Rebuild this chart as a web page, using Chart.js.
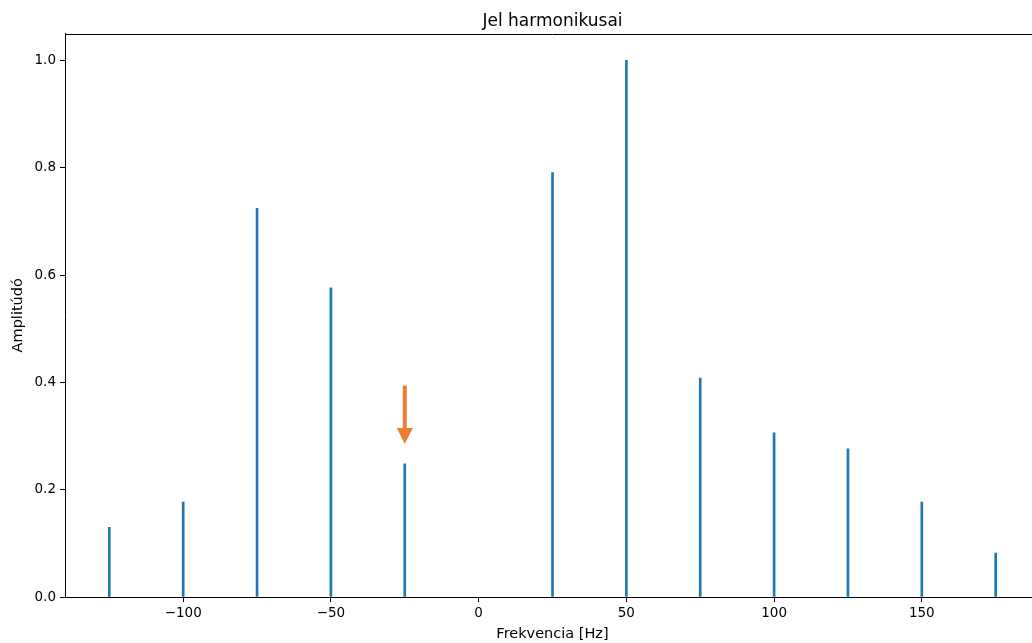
<!DOCTYPE html>
<html>
<head>
<meta charset="utf-8">
<script src="https://cdn.jsdelivr.net/npm/chart.js@4"></script>
<style>
html,body{margin:0;padding:0;background:#fff;overflow:hidden;}
#wrap{width:1040px;height:643px;}
</style>
</head>
<body>
<div id="wrap"><canvas id="c" width="1040" height="643"></canvas></div>
<script>
const freqs = [-125, -100, -75, -50, -25, 25, 50, 75, 100, 125, 150, 175];
const amps  = [0.130, 0.177, 0.724, 0.576, 0.248, 0.791, 1.000, 0.408, 0.306, 0.276, 0.177, 0.082];
const barWidths = [2, 2, 2, 2, 2, 2, 2, 3, 2, 2, 2, 3];
const xTicks = [-100, -50, 0, 50, 100, 150];
const yTicks = [0.0, 0.2, 0.4, 0.6, 0.8, 1.0];
const xRange = [-140, 190];
const yRange = [0, 1.05];
const arrowFrom = {x: -25, y: 0.394};
const arrowTo   = {x: -25, y: 0.285};
const titleText = 'Jel harmonikusai';
const xLabel = 'Frekvencia [Hz]';
const yLabel = 'Amplitúdó';

const FONT = "'DejaVu Sans', sans-serif";

const framePlugin = {
  id: 'frame',
  afterDatasetsDraw(chart) {
    const {ctx, chartArea: a} = chart;
    ctx.save();
    ctx.strokeStyle = '#000';
    ctx.lineWidth = 1;
    ctx.beginPath();
    ctx.moveTo(a.left, Math.round(a.top) + 0.5);
    ctx.lineTo(a.right, Math.round(a.top) + 0.5);
    ctx.lineTo(a.right, a.bottom);
    ctx.stroke();
    // title centred over the axes
    ctx.fillStyle = '#000';
    ctx.font = "17px " + FONT;
    ctx.textAlign = 'center';
    ctx.textBaseline = 'alphabetic';
    ctx.fillText(titleText, (a.left + a.right) / 2, 25.5);
    ctx.restore();
  }
};

const arrowPlugin = {
  id: 'arrow',
  afterDatasetsDraw(chart) {
    const {ctx} = chart;
    const xs = chart.scales.x, ys = chart.scales.y;
    const x0 = xs.getPixelForValue(arrowFrom.x), y0 = ys.getPixelForValue(arrowFrom.y);
    const x1 = xs.getPixelForValue(arrowTo.x), y1 = ys.getPixelForValue(arrowTo.y);
    const headLen = 16, headHalf = 8, shaft = 4;
    ctx.save();
    ctx.fillStyle = '#ED7D31';
    ctx.fillRect(x0 - shaft / 2, y0, shaft, (y1 - headLen) - y0 + 0.5);
    ctx.beginPath();
    ctx.moveTo(x1 - headHalf, y1 - headLen);
    ctx.lineTo(x1 + headHalf, y1 - headLen);
    ctx.lineTo(x1, y1);
    ctx.closePath();
    ctx.fill();
    ctx.restore();
  }
};

new Chart(document.getElementById('c'), {
  type: 'bar',
  data: {
    datasets: [{
      data: freqs.map((f, i) => ({x: f, y: amps[i]})),
      backgroundColor: '#1f77b4',
      borderWidth: 0,
      barThickness: ctx => barWidths[ctx.dataIndex] ?? 2,
      grouped: false
    }]
  },
  options: {
    responsive: false,
    animation: false,
    devicePixelRatio: 1,
    layout: {padding: {left: 0, right: 0, top: 33.5, bottom: 0}, autoPadding: false},
    plugins: {
      legend: {display: false},
      tooltip: {enabled: false},
      title: {display: false}
    },
    scales: {
      x: {
        type: 'linear',
        min: xRange[0], max: xRange[1],
        offset: false,
        afterBuildTicks: s => { s.ticks = xTicks.map(v => ({value: v})); },
        afterFit: s => { s.height = 46; },
        grid: {offset: false, drawOnChartArea: false, drawTicks: true, tickLength: 5, color: '#000', tickColor: '#000'},
        border: {display: true, color: '#000', width: 1},
        ticks: {
          color: '#000',
          font: {family: FONT, size: 13.5},
          padding: 3,
          maxRotation: 0,
          autoSkip: false,
          callback: v => (v < 0 ? '\u2212' + Math.abs(v) : String(v))
        },
        title: {display: true, text: xLabel, color: '#000', font: {family: FONT, size: 14.5}, padding: {top: 2, bottom: 0}}
      },
      y: {
        type: 'linear',
        min: yRange[0], max: yRange[1],
        afterBuildTicks: s => { s.ticks = yTicks.map(v => ({value: v})); },
        afterFit: s => { s.width = 65; },
        grid: {offset: false, drawOnChartArea: false, drawTicks: true, tickLength: 5, color: '#000', tickColor: '#000'},
        border: {display: true, color: '#000', width: 1},
        ticks: {
          color: '#000',
          font: {family: FONT, size: 13.5},
          padding: 4,
          autoSkip: false,
          callback: v => Number(v).toFixed(1)
        },
        title: {display: true, text: yLabel, color: '#000', font: {family: FONT, size: 14.5}, padding: {top: 10, bottom: 0}}
      }
    }
  },
  plugins: [framePlugin, arrowPlugin]
});
</script>
</body>
</html>
